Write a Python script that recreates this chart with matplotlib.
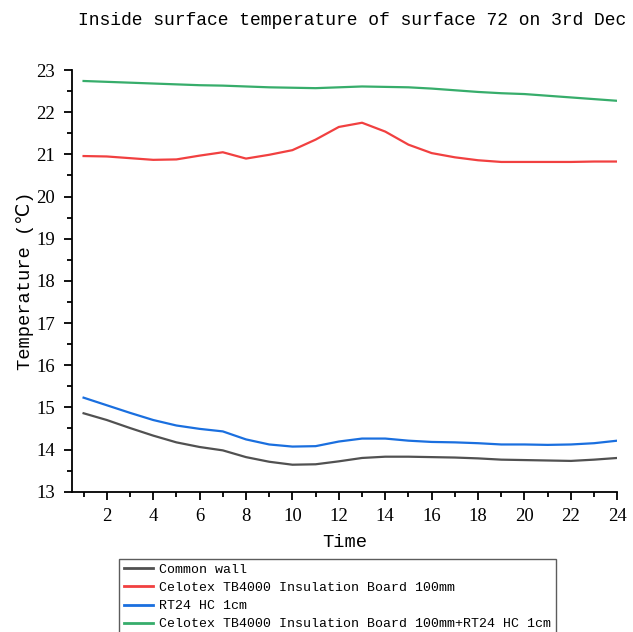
import matplotlib
matplotlib.use("Agg")
import matplotlib.pyplot as plt
from matplotlib.ticker import MultipleLocator

# hourly inside surface temperature, 3rd Dec
hours = list(range(1, 25))
common_wall = [14.86, 14.70, 14.51, 14.33, 14.17, 14.06, 13.98, 13.82, 13.71, 13.64,
               13.65, 13.72, 13.80, 13.83, 13.83, 13.82, 13.81, 13.79, 13.76, 13.75,
               13.74, 13.73, 13.76, 13.80]
celotex = [20.96, 20.95, 20.91, 20.87, 20.88, 20.97, 21.05, 20.90, 20.99, 21.10,
           21.35, 21.65, 21.75, 21.54, 21.23, 21.03, 20.93, 20.86, 20.82, 20.82,
           20.82, 20.82, 20.83, 20.83]
rt24 = [15.23, 15.05, 14.87, 14.70, 14.57, 14.49, 14.43, 14.24, 14.12, 14.07,
        14.08, 14.19, 14.26, 14.26, 14.21, 14.18, 14.17, 14.15, 14.12, 14.12,
        14.11, 14.12, 14.15, 14.21]
celotex_rt24 = [22.74, 22.72, 22.70, 22.68, 22.66, 22.64, 22.63, 22.61, 22.59, 22.58,
                22.57, 22.59, 22.61, 22.60, 22.59, 22.56, 22.52, 22.48, 22.45, 22.43,
                22.39, 22.35, 22.31, 22.27]

series = [
    (common_wall, "#515151", "Common wall"),
    (celotex, "#F14040", "Celotex TB4000 Insulation Board 100mm"),
    (rt24, "#1A6FDF", "RT24 HC 1cm"),
    (celotex_rt24, "#37AD6B", "Celotex TB4000 Insulation Board 100mm+RT24 HC 1cm"),
]

mono = ["Liberation Mono", "DejaVu Sans"]
serif = ["Liberation Serif", "DejaVu Serif"]

fig = plt.figure(figsize=(6.33, 6.32), dpi=100)
ax = fig.add_axes([0.1137, 0.222, 0.8615, 0.6672])

for ys, c, lab in series:
    ax.plot(hours, ys, color=c, lw=1.6, label=lab)

ax.set_xlim(0.5, 24)
ax.set_ylim(13, 23)
ax.spines['right'].set_visible(False)
ax.spines['top'].set_visible(False)
for s in ('left', 'bottom'):
    ax.spines[s].set_linewidth(1.3)

ax.xaxis.set_major_locator(MultipleLocator(2))
ax.xaxis.set_minor_locator(MultipleLocator(1))
ax.yaxis.set_major_locator(MultipleLocator(1))
ax.yaxis.set_minor_locator(MultipleLocator(0.5))
ax.tick_params(which='major', length=6, width=1.3, pad=6, labelsize=13.5)
ax.tick_params(which='minor', length=3.5, width=1.3)
for t in ax.get_xticklabels() + ax.get_yticklabels():
    t.set_family(serif)

ax.set_xlabel("Time", family=mono, fontsize=13.5, labelpad=6)
ax.set_ylabel("Temperature (℃)", family=mono, fontsize=13.5, labelpad=2)

fig.text(0.556, 0.968, "Inside surface temperature of surface 72 on 3rd Dec",
         family=mono, fontsize=13, ha='center', va='center')

leg = fig.legend(loc='upper left', bbox_to_anchor=(119 / 633, 1 - 559 / 632),
                 prop={'family': mono, 'size': 9.5}, frameon=True, fancybox=False,
                 borderpad=0.35, labelspacing=0.45, handlelength=2.2,
                 handletextpad=0.5, borderaxespad=0)
leg.get_frame().set_edgecolor('#333333')
leg.get_frame().set_linewidth(1.0)
for line in leg.get_lines():
    line.set_linewidth(2.0)

fig.savefig("out.png", dpi=100)
